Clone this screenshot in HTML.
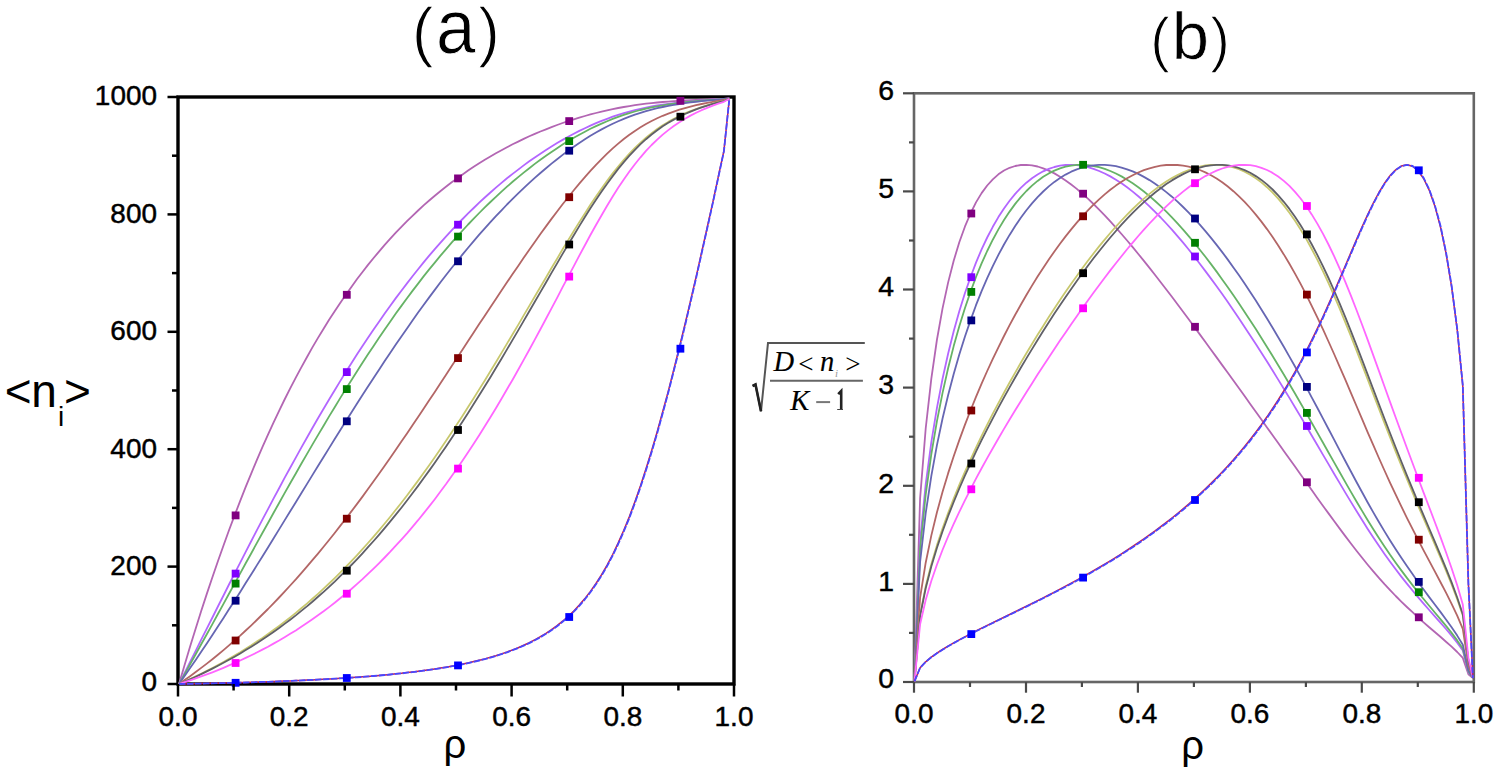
<!DOCTYPE html>
<html><head><meta charset="utf-8"><style>
html,body{margin:0;padding:0;background:#fff;}
body{width:1500px;height:775px;overflow:hidden;font-family:"Liberation Sans",sans-serif;}
svg{display:block;}
</style></head><body>
<svg width="1500" height="775" viewBox="0 0 1500 775">
<rect width="1500" height="775" fill="#fff"/>
<rect x="178.0" y="97.0" width="556.0" height="587.0" fill="none" stroke="#000" stroke-width="3.4"/>
<path d="M179.0 684.0 L184.6 665.0 L190.1 646.5 L195.7 628.5 L201.2 611.0 L206.8 593.9 L212.4 577.3 L217.9 561.2 L223.5 545.5 L229.0 530.2 L234.6 515.4 L240.2 500.9 L245.7 486.9 L251.3 473.3 L256.8 460.1 L262.4 447.2 L268.0 434.7 L273.5 422.6 L279.1 410.9 L284.6 399.5 L290.2 388.4 L295.8 377.7 L301.3 367.3 L306.9 357.2 L312.4 347.4 L318.0 337.9 L323.6 328.7 L329.1 319.8 L334.7 311.2 L340.2 302.9 L345.8 294.8 L351.4 286.9 L356.9 279.3 L362.5 272.0 L368.0 264.9 L373.6 258.0 L379.2 251.4 L384.7 244.9 L390.3 238.7 L395.8 232.7 L401.4 226.8 L407.0 221.2 L412.5 215.8 L418.1 210.5 L423.6 205.4 L429.2 200.5 L434.8 195.8 L440.3 191.2 L445.9 186.8 L451.4 182.5 L457.0 178.4 L462.6 174.4 L468.1 170.5 L473.7 166.8 L479.2 163.3 L484.8 159.8 L490.4 156.5 L495.9 153.3 L501.5 150.2 L507.0 147.2 L512.6 144.3 L518.2 141.6 L523.7 138.9 L529.3 136.3 L534.8 133.9 L540.4 131.5 L546.0 129.3 L551.5 127.1 L557.1 125.0 L562.6 123.0 L568.2 121.1 L573.8 119.3 L579.3 117.6 L584.9 116.0 L590.4 114.4 L596.0 113.0 L601.6 111.6 L607.1 110.3 L612.7 109.1 L618.2 108.0 L623.8 107.0 L629.4 106.1 L634.9 105.2 L640.5 104.4 L646.0 103.7 L651.6 103.1 L657.2 102.5 L662.7 102.0 L668.3 101.6 L673.8 101.1 L679.4 100.8 L685.0 100.4 L690.5 100.1 L696.1 99.8 L701.6 99.6 L707.2 99.4 L712.8 99.2 L718.3 99.0 L723.9 98.8 L729.4 98.5" fill="none" stroke="#B366B3" stroke-width="1.8" stroke-linejoin="round"/>
<path d="M179.0 684.0 L184.6 672.9 L190.1 661.9 L195.7 650.8 L201.2 639.7 L206.8 628.6 L212.4 617.5 L217.9 606.5 L223.5 595.5 L229.0 584.5 L234.6 573.6 L240.2 562.7 L245.7 551.8 L251.3 541.0 L256.8 530.3 L262.4 519.7 L268.0 509.1 L273.5 498.6 L279.1 488.2 L284.6 477.9 L290.2 467.7 L295.8 457.6 L301.3 447.6 L306.9 437.7 L312.4 428.0 L318.0 418.3 L323.6 408.8 L329.1 399.5 L334.7 390.2 L340.2 381.1 L345.8 372.1 L351.4 363.3 L356.9 354.6 L362.5 346.1 L368.0 337.7 L373.6 329.5 L379.2 321.4 L384.7 313.5 L390.3 305.7 L395.8 298.1 L401.4 290.7 L407.0 283.4 L412.5 276.2 L418.1 269.2 L423.6 262.4 L429.2 255.7 L434.8 249.2 L440.3 242.9 L445.9 236.7 L451.4 230.6 L457.0 224.7 L462.6 219.0 L468.1 213.4 L473.7 208.0 L479.2 202.7 L484.8 197.5 L490.4 192.5 L495.9 187.6 L501.5 182.9 L507.0 178.3 L512.6 173.9 L518.2 169.6 L523.7 165.4 L529.3 161.3 L534.8 157.4 L540.4 153.7 L546.0 150.0 L551.5 146.5 L557.1 143.1 L562.6 139.9 L568.2 136.8 L573.8 133.8 L579.3 130.9 L584.9 128.2 L590.4 125.6 L596.0 123.2 L601.6 120.9 L607.1 118.8 L612.7 116.7 L618.2 114.9 L623.8 113.1 L629.4 111.6 L634.9 110.1 L640.5 108.8 L646.0 107.6 L651.6 106.5 L657.2 105.5 L662.7 104.6 L668.3 103.8 L673.8 103.1 L679.4 102.4 L685.0 101.8 L690.5 101.3 L696.1 100.8 L701.6 100.4 L707.2 100.0 L712.8 99.6 L718.3 99.3 L723.9 99.0 L729.4 98.5" fill="none" stroke="#B366FF" stroke-width="1.8" stroke-linejoin="round"/>
<path d="M179.0 684.0 L184.6 674.1 L190.1 664.2 L195.7 654.2 L201.2 644.2 L206.8 634.2 L212.4 624.1 L217.9 614.0 L223.5 603.9 L229.0 593.7 L234.6 583.6 L240.2 573.4 L245.7 563.3 L251.3 553.2 L256.8 543.1 L262.4 533.0 L268.0 523.0 L273.5 513.0 L279.1 503.0 L284.6 493.1 L290.2 483.3 L295.8 473.5 L301.3 463.8 L306.9 454.1 L312.4 444.6 L318.0 435.1 L323.6 425.7 L329.1 416.4 L334.7 407.2 L340.2 398.1 L345.8 389.1 L351.4 380.2 L356.9 371.5 L362.5 362.8 L368.0 354.3 L373.6 345.9 L379.2 337.6 L384.7 329.5 L390.3 321.5 L395.8 313.6 L401.4 305.9 L407.0 298.3 L412.5 290.9 L418.1 283.6 L423.6 276.4 L429.2 269.4 L434.8 262.6 L440.3 255.9 L445.9 249.3 L451.4 242.9 L457.0 236.6 L462.6 230.5 L468.1 224.5 L473.7 218.7 L479.2 213.0 L484.8 207.4 L490.4 202.0 L495.9 196.8 L501.5 191.6 L507.0 186.7 L512.6 181.8 L518.2 177.1 L523.7 172.6 L529.3 168.2 L534.8 163.9 L540.4 159.7 L546.0 155.7 L551.5 151.9 L557.1 148.2 L562.6 144.6 L568.2 141.1 L573.8 137.8 L579.3 134.7 L584.9 131.7 L590.4 128.8 L596.0 126.1 L601.6 123.6 L607.1 121.2 L612.7 118.9 L618.2 116.8 L623.8 114.9 L629.4 113.1 L634.9 111.5 L640.5 110.0 L646.0 108.7 L651.6 107.4 L657.2 106.3 L662.7 105.3 L668.3 104.4 L673.8 103.6 L679.4 102.9 L685.0 102.2 L690.5 101.7 L696.1 101.1 L701.6 100.6 L707.2 100.2 L712.8 99.8 L718.3 99.4 L723.9 99.1 L729.4 98.6" fill="none" stroke="#66B366" stroke-width="1.8" stroke-linejoin="round"/>
<path d="M179.0 684.0 L184.6 676.1 L190.1 668.0 L195.7 659.9 L201.2 651.7 L206.8 643.4 L212.4 635.0 L217.9 626.5 L223.5 618.0 L229.0 609.3 L234.6 600.7 L240.2 591.9 L245.7 583.1 L251.3 574.3 L256.8 565.4 L262.4 556.4 L268.0 547.5 L273.5 538.5 L279.1 529.4 L284.6 520.4 L290.2 511.3 L295.8 502.3 L301.3 493.2 L306.9 484.1 L312.4 475.1 L318.0 466.1 L323.6 457.0 L329.1 448.1 L334.7 439.1 L340.2 430.2 L345.8 421.3 L351.4 412.5 L356.9 403.8 L362.5 395.1 L368.0 386.4 L373.6 377.9 L379.2 369.4 L384.7 361.0 L390.3 352.7 L395.8 344.5 L401.4 336.4 L407.0 328.4 L412.5 320.4 L418.1 312.6 L423.6 304.9 L429.2 297.4 L434.8 289.9 L440.3 282.5 L445.9 275.3 L451.4 268.2 L457.0 261.3 L462.6 254.4 L468.1 247.7 L473.7 241.1 L479.2 234.7 L484.8 228.4 L490.4 222.2 L495.9 216.2 L501.5 210.3 L507.0 204.5 L512.6 198.9 L518.2 193.4 L523.7 188.1 L529.3 182.9 L534.8 177.9 L540.4 173.0 L546.0 168.2 L551.5 163.6 L557.1 159.2 L562.6 154.9 L568.2 150.7 L573.8 146.8 L579.3 142.9 L584.9 139.3 L590.4 135.8 L596.0 132.5 L601.6 129.4 L607.1 126.5 L612.7 123.7 L618.2 121.2 L623.8 118.8 L629.4 116.6 L634.9 114.6 L640.5 112.8 L646.0 111.1 L651.6 109.6 L657.2 108.2 L662.7 107.0 L668.3 105.9 L673.8 104.9 L679.4 104.0 L685.0 103.2 L690.5 102.4 L696.1 101.8 L701.6 101.2 L707.2 100.6 L712.8 100.1 L718.3 99.7 L723.9 99.2 L729.4 98.6" fill="none" stroke="#6666B3" stroke-width="1.8" stroke-linejoin="round"/>
<path d="M179.0 684.0 L184.6 680.1 L190.1 676.2 L195.7 672.1 L201.2 667.9 L206.8 663.6 L212.4 659.2 L217.9 654.7 L223.5 650.1 L229.0 645.4 L234.6 640.5 L240.2 635.6 L245.7 630.5 L251.3 625.3 L256.8 620.0 L262.4 614.5 L268.0 609.0 L273.5 603.3 L279.1 597.5 L284.6 591.6 L290.2 585.5 L295.8 579.4 L301.3 573.1 L306.9 566.7 L312.4 560.2 L318.0 553.6 L323.6 546.8 L329.1 540.0 L334.7 533.0 L340.2 525.9 L345.8 518.7 L351.4 511.4 L356.9 504.1 L362.5 496.6 L368.0 489.0 L373.6 481.3 L379.2 473.5 L384.7 465.7 L390.3 457.7 L395.8 449.7 L401.4 441.6 L407.0 433.5 L412.5 425.3 L418.1 417.0 L423.6 408.7 L429.2 400.3 L434.8 391.9 L440.3 383.5 L445.9 375.1 L451.4 366.6 L457.0 358.1 L462.6 349.6 L468.1 341.1 L473.7 332.6 L479.2 324.1 L484.8 315.7 L490.4 307.3 L495.9 298.9 L501.5 290.6 L507.0 282.3 L512.6 274.0 L518.2 265.9 L523.7 257.8 L529.3 249.8 L534.8 241.9 L540.4 234.1 L546.0 226.4 L551.5 218.9 L557.1 211.5 L562.6 204.2 L568.2 197.2 L573.8 190.3 L579.3 183.6 L584.9 177.1 L590.4 170.8 L596.0 164.8 L601.6 159.1 L607.1 153.6 L612.7 148.4 L618.2 143.6 L623.8 139.0 L629.4 134.8 L634.9 130.9 L640.5 127.3 L646.0 124.0 L651.6 121.0 L657.2 118.3 L662.7 115.8 L668.3 113.6 L673.8 111.6 L679.4 109.7 L685.0 108.1 L690.5 106.6 L696.1 105.2 L701.6 104.0 L707.2 102.8 L712.8 101.8 L718.3 100.9 L723.9 100.0 L729.4 98.6" fill="none" stroke="#B36666" stroke-width="1.8" stroke-linejoin="round"/>
<path d="M179.0 684.0 L184.6 681.5 L190.1 679.0 L195.7 676.4 L201.2 673.7 L206.8 670.9 L212.4 668.0 L217.9 665.1 L223.5 662.0 L229.0 658.9 L234.6 655.6 L240.2 652.3 L245.7 648.8 L251.3 645.3 L256.8 641.6 L262.4 637.9 L268.0 634.0 L273.5 630.0 L279.1 625.9 L284.6 621.7 L290.2 617.4 L295.8 612.9 L301.3 608.3 L306.9 603.6 L312.4 598.8 L318.0 593.8 L323.6 588.7 L329.1 583.5 L334.7 578.1 L340.2 572.6 L345.8 567.0 L351.4 561.2 L356.9 555.3 L362.5 549.2 L368.0 543.0 L373.6 536.6 L379.2 530.1 L384.7 523.5 L390.3 516.7 L395.8 509.8 L401.4 502.7 L407.0 495.5 L412.5 488.1 L418.1 480.6 L423.6 472.9 L429.2 465.2 L434.8 457.2 L440.3 449.2 L445.9 441.0 L451.4 432.7 L457.0 424.3 L462.6 415.7 L468.1 407.0 L473.7 398.3 L479.2 389.4 L484.8 380.4 L490.4 371.3 L495.9 362.2 L501.5 352.9 L507.0 343.6 L512.6 334.3 L518.2 324.9 L523.7 315.4 L529.3 305.9 L534.8 296.5 L540.4 287.0 L546.0 277.5 L551.5 268.0 L557.1 258.7 L562.6 249.3 L568.2 240.1 L573.8 231.0 L579.3 222.1 L584.9 213.4 L590.4 204.8 L596.0 196.5 L601.6 188.5 L607.1 180.8 L612.7 173.4 L618.2 166.5 L623.8 159.9 L629.4 153.7 L634.9 147.9 L640.5 142.6 L646.0 137.7 L651.6 133.2 L657.2 129.1 L662.7 125.3 L668.3 121.9 L673.8 118.8 L679.4 116.0 L685.0 113.4 L690.5 111.1 L696.1 109.0 L701.6 107.1 L707.2 105.3 L712.8 103.7 L718.3 102.2 L723.9 100.9 L729.4 98.7" fill="none" stroke="#C8C86E" stroke-width="1.8" stroke-linejoin="round"/>
<path d="M179.0 684.0 L184.6 681.6 L190.1 679.2 L195.7 676.7 L201.2 674.1 L206.8 671.4 L212.4 668.6 L217.9 665.8 L223.5 662.8 L229.0 659.8 L234.6 656.7 L240.2 653.5 L245.7 650.1 L251.3 646.7 L256.8 643.2 L262.4 639.5 L268.0 635.8 L273.5 632.0 L279.1 628.0 L284.6 623.9 L290.2 619.7 L295.8 615.4 L301.3 610.9 L306.9 606.4 L312.4 601.7 L318.0 596.8 L323.6 591.9 L329.1 586.8 L334.7 581.6 L340.2 576.2 L345.8 570.7 L351.4 565.0 L356.9 559.3 L362.5 553.3 L368.0 547.2 L373.6 541.0 L379.2 534.6 L384.7 528.1 L390.3 521.4 L395.8 514.6 L401.4 507.7 L407.0 500.5 L412.5 493.3 L418.1 485.9 L423.6 478.3 L429.2 470.6 L434.8 462.8 L440.3 454.8 L445.9 446.7 L451.4 438.4 L457.0 430.0 L462.6 421.5 L468.1 412.9 L473.7 404.1 L479.2 395.2 L484.8 386.3 L490.4 377.2 L495.9 368.0 L501.5 358.7 L507.0 349.4 L512.6 339.9 L518.2 330.4 L523.7 320.9 L529.3 311.3 L534.8 301.7 L540.4 292.1 L546.0 282.5 L551.5 272.9 L557.1 263.4 L562.6 253.9 L568.2 244.5 L573.8 235.2 L579.3 226.1 L584.9 217.1 L590.4 208.3 L596.0 199.8 L601.6 191.6 L607.1 183.7 L612.7 176.1 L618.2 168.9 L623.8 162.1 L629.4 155.7 L634.9 149.8 L640.5 144.2 L646.0 139.2 L651.6 134.5 L657.2 130.2 L662.7 126.3 L668.3 122.8 L673.8 119.6 L679.4 116.7 L685.0 114.0 L690.5 111.6 L696.1 109.4 L701.6 107.4 L707.2 105.6 L712.8 103.9 L718.3 102.4 L723.9 101.0 L729.4 98.7" fill="none" stroke="#606068" stroke-width="1.8" stroke-linejoin="round"/>
<path d="M179.0 684.0 L184.6 682.2 L190.1 680.3 L195.7 678.4 L201.2 676.4 L206.8 674.4 L212.4 672.3 L217.9 670.1 L223.5 667.8 L229.0 665.4 L234.6 663.0 L240.2 660.5 L245.7 657.9 L251.3 655.2 L256.8 652.5 L262.4 649.6 L268.0 646.7 L273.5 643.6 L279.1 640.5 L284.6 637.2 L290.2 633.8 L295.8 630.4 L301.3 626.8 L306.9 623.1 L312.4 619.3 L318.0 615.3 L323.6 611.3 L329.1 607.1 L334.7 602.8 L340.2 598.3 L345.8 593.7 L351.4 589.0 L356.9 584.1 L362.5 579.1 L368.0 573.9 L373.6 568.6 L379.2 563.1 L384.7 557.5 L390.3 551.7 L395.8 545.7 L401.4 539.6 L407.0 533.3 L412.5 526.8 L418.1 520.2 L423.6 513.4 L429.2 506.4 L434.8 499.2 L440.3 491.8 L445.9 484.3 L451.4 476.5 L457.0 468.6 L462.6 460.5 L468.1 452.3 L473.7 443.8 L479.2 435.2 L484.8 426.3 L490.4 417.3 L495.9 408.2 L501.5 398.8 L507.0 389.3 L512.6 379.7 L518.2 369.8 L523.7 359.9 L529.3 349.8 L534.8 339.6 L540.4 329.2 L546.0 318.8 L551.5 308.3 L557.1 297.8 L562.6 287.2 L568.2 276.6 L573.8 266.1 L579.3 255.6 L584.9 245.2 L590.4 235.0 L596.0 225.0 L601.6 215.2 L607.1 205.7 L612.7 196.5 L618.2 187.8 L623.8 179.4 L629.4 171.6 L634.9 164.2 L640.5 157.3 L646.0 150.9 L651.6 145.0 L657.2 139.6 L662.7 134.6 L668.3 130.1 L673.8 126.0 L679.4 122.2 L685.0 118.8 L690.5 115.6 L696.1 112.8 L701.6 110.2 L707.2 107.8 L712.8 105.6 L718.3 103.6 L723.9 101.8 L729.4 98.8" fill="none" stroke="#FF66FF" stroke-width="1.8" stroke-linejoin="round"/>
<path d="M179.0 684.0 L184.6 683.9 L190.1 683.8 L195.7 683.7 L201.2 683.6 L206.8 683.4 L212.4 683.3 L217.9 683.2 L223.5 683.0 L229.0 682.9 L234.6 682.8 L240.2 682.6 L245.7 682.4 L251.3 682.3 L256.8 682.1 L262.4 681.9 L268.0 681.7 L273.5 681.5 L279.1 681.3 L284.6 681.1 L290.2 680.9 L295.8 680.6 L301.3 680.4 L306.9 680.1 L312.4 679.9 L318.0 679.6 L323.6 679.3 L329.1 679.0 L334.7 678.7 L340.2 678.3 L345.8 678.0 L351.4 677.6 L356.9 677.2 L362.5 676.8 L368.0 676.4 L373.6 675.9 L379.2 675.4 L384.7 674.9 L390.3 674.4 L395.8 673.8 L401.4 673.3 L407.0 672.6 L412.5 672.0 L418.1 671.3 L423.6 670.6 L429.2 669.8 L434.8 669.0 L440.3 668.1 L445.9 667.2 L451.4 666.2 L457.0 665.2 L462.6 664.1 L468.1 662.9 L473.7 661.6 L479.2 660.3 L484.8 658.9 L490.4 657.3 L495.9 655.7 L501.5 653.9 L507.0 652.0 L512.6 649.9 L518.2 647.7 L523.7 645.3 L529.3 642.7 L534.8 639.8 L540.4 636.7 L546.0 633.4 L551.5 629.7 L557.1 625.7 L562.6 621.2 L568.2 616.4 L573.8 611.0 L579.3 605.1 L584.9 598.6 L590.4 591.4 L596.0 583.5 L601.6 574.7 L607.1 565.1 L612.7 554.5 L618.2 542.9 L623.8 530.3 L629.4 516.6 L634.9 501.7 L640.5 485.8 L646.0 468.8 L651.6 450.8 L657.2 431.8 L662.7 411.8 L668.3 391.1 L673.8 369.5 L679.4 347.2 L685.0 324.3 L690.5 300.8 L696.1 276.8 L701.6 252.4 L707.2 227.5 L712.8 202.3 L718.3 176.7 L723.9 150.9 L729.2 100.3" fill="none" stroke="#C82050" stroke-width="1.5" stroke-linejoin="round"/>
<path d="M179.0 684.0 L184.6 683.9 L190.1 683.8 L195.7 683.7 L201.2 683.6 L206.8 683.4 L212.4 683.3 L217.9 683.2 L223.5 683.1 L229.0 682.9 L234.6 682.8 L240.2 682.6 L245.7 682.5 L251.3 682.3 L256.8 682.1 L262.4 681.9 L268.0 681.8 L273.5 681.6 L279.1 681.4 L284.6 681.1 L290.2 680.9 L295.8 680.7 L301.3 680.4 L306.9 680.2 L312.4 679.9 L318.0 679.6 L323.6 679.3 L329.1 679.0 L334.7 678.7 L340.2 678.4 L345.8 678.0 L351.4 677.7 L356.9 677.3 L362.5 676.9 L368.0 676.4 L373.6 676.0 L379.2 675.5 L384.7 675.0 L390.3 674.5 L395.8 673.9 L401.4 673.4 L407.0 672.7 L412.5 672.1 L418.1 671.4 L423.6 670.7 L429.2 669.9 L434.8 669.1 L440.3 668.3 L445.9 667.4 L451.4 666.4 L457.0 665.4 L462.6 664.3 L468.1 663.1 L473.7 661.8 L479.2 660.5 L484.8 659.1 L490.4 657.6 L495.9 655.9 L501.5 654.2 L507.0 652.3 L512.6 650.2 L518.2 648.0 L523.7 645.6 L529.3 643.1 L534.8 640.2 L540.4 637.2 L546.0 633.8 L551.5 630.2 L557.1 626.2 L562.6 621.8 L568.2 617.0 L573.8 611.7 L579.3 605.8 L584.9 599.3 L590.4 592.2 L596.0 584.3 L601.6 575.6 L607.1 566.1 L612.7 555.5 L618.2 544.0 L623.8 531.4 L629.4 517.8 L634.9 503.0 L640.5 487.1 L646.0 470.2 L651.6 452.2 L657.2 433.2 L662.7 413.3 L668.3 392.5 L673.8 370.9 L679.4 348.7 L685.0 325.7 L690.5 302.2 L696.1 278.1 L701.6 253.5 L707.2 228.5 L712.8 203.1 L718.3 177.4 L723.9 151.4 L729.2 100.3" fill="none" stroke="#4848FF" stroke-width="1.8" stroke-linejoin="round" stroke-dasharray="6.5 1.5"/>
<rect x="231.7" y="511.5" width="7.8" height="7.8" fill="#800080"/>
<rect x="231.7" y="569.7" width="7.8" height="7.8" fill="#8000FF"/>
<rect x="231.7" y="579.7" width="7.8" height="7.8" fill="#008000"/>
<rect x="231.7" y="596.8" width="7.8" height="7.8" fill="#000080"/>
<rect x="231.7" y="636.6" width="7.8" height="7.8" fill="#800000"/>
<rect x="231.7" y="659.1" width="7.8" height="7.8" fill="#FF00FF"/>
<rect x="231.7" y="678.9" width="7.8" height="7.8" fill="#0000FF"/>
<rect x="342.9" y="290.9" width="7.8" height="7.8" fill="#800080"/>
<rect x="342.9" y="368.2" width="7.8" height="7.8" fill="#8000FF"/>
<rect x="342.9" y="385.2" width="7.8" height="7.8" fill="#008000"/>
<rect x="342.9" y="417.4" width="7.8" height="7.8" fill="#000080"/>
<rect x="342.9" y="514.8" width="7.8" height="7.8" fill="#800000"/>
<rect x="342.9" y="566.8" width="7.8" height="7.8" fill="#000000"/>
<rect x="342.9" y="589.8" width="7.8" height="7.8" fill="#FF00FF"/>
<rect x="342.9" y="674.1" width="7.8" height="7.8" fill="#0000FF"/>
<rect x="454.1" y="174.5" width="7.8" height="7.8" fill="#800080"/>
<rect x="454.1" y="220.8" width="7.8" height="7.8" fill="#8000FF"/>
<rect x="454.1" y="232.7" width="7.8" height="7.8" fill="#008000"/>
<rect x="454.1" y="257.4" width="7.8" height="7.8" fill="#000080"/>
<rect x="454.1" y="354.2" width="7.8" height="7.8" fill="#800000"/>
<rect x="454.1" y="426.1" width="7.8" height="7.8" fill="#000000"/>
<rect x="454.1" y="464.7" width="7.8" height="7.8" fill="#FF00FF"/>
<rect x="454.1" y="661.5" width="7.8" height="7.8" fill="#0000FF"/>
<rect x="565.3" y="117.2" width="7.8" height="7.8" fill="#800080"/>
<rect x="565.3" y="137.2" width="7.8" height="7.8" fill="#008000"/>
<rect x="565.3" y="146.8" width="7.8" height="7.8" fill="#000080"/>
<rect x="565.3" y="193.3" width="7.8" height="7.8" fill="#800000"/>
<rect x="565.3" y="240.6" width="7.8" height="7.8" fill="#000000"/>
<rect x="565.3" y="272.7" width="7.8" height="7.8" fill="#FF00FF"/>
<rect x="565.3" y="613.1" width="7.8" height="7.8" fill="#0000FF"/>
<rect x="676.5" y="96.9" width="7.8" height="7.8" fill="#800080"/>
<rect x="676.5" y="112.8" width="7.8" height="7.8" fill="#000000"/>
<rect x="676.5" y="344.8" width="7.8" height="7.8" fill="#0000FF"/>
<line x1="178.0" y1="684.0" x2="178.0" y2="696.5" stroke="#000" stroke-width="2.5"/>
<line x1="167.5" y1="684.0" x2="178.0" y2="684.0" stroke="#000" stroke-width="2.5"/>
<line x1="233.6" y1="684.0" x2="233.6" y2="690.5" stroke="#000" stroke-width="2.5"/>
<line x1="172.0" y1="625.3" x2="178.0" y2="625.3" stroke="#000" stroke-width="2.5"/>
<line x1="289.2" y1="684.0" x2="289.2" y2="696.5" stroke="#000" stroke-width="2.5"/>
<line x1="167.5" y1="566.6" x2="178.0" y2="566.6" stroke="#000" stroke-width="2.5"/>
<line x1="344.8" y1="684.0" x2="344.8" y2="690.5" stroke="#000" stroke-width="2.5"/>
<line x1="172.0" y1="507.9" x2="178.0" y2="507.9" stroke="#000" stroke-width="2.5"/>
<line x1="400.4" y1="684.0" x2="400.4" y2="696.5" stroke="#000" stroke-width="2.5"/>
<line x1="167.5" y1="449.2" x2="178.0" y2="449.2" stroke="#000" stroke-width="2.5"/>
<line x1="456.0" y1="684.0" x2="456.0" y2="690.5" stroke="#000" stroke-width="2.5"/>
<line x1="172.0" y1="390.5" x2="178.0" y2="390.5" stroke="#000" stroke-width="2.5"/>
<line x1="511.6" y1="684.0" x2="511.6" y2="696.5" stroke="#000" stroke-width="2.5"/>
<line x1="167.5" y1="331.8" x2="178.0" y2="331.8" stroke="#000" stroke-width="2.5"/>
<line x1="567.2" y1="684.0" x2="567.2" y2="690.5" stroke="#000" stroke-width="2.5"/>
<line x1="172.0" y1="273.1" x2="178.0" y2="273.1" stroke="#000" stroke-width="2.5"/>
<line x1="622.8" y1="684.0" x2="622.8" y2="696.5" stroke="#000" stroke-width="2.5"/>
<line x1="167.5" y1="214.4" x2="178.0" y2="214.4" stroke="#000" stroke-width="2.5"/>
<line x1="678.4" y1="684.0" x2="678.4" y2="690.5" stroke="#000" stroke-width="2.5"/>
<line x1="172.0" y1="155.7" x2="178.0" y2="155.7" stroke="#000" stroke-width="2.5"/>
<line x1="734.0" y1="684.0" x2="734.0" y2="696.5" stroke="#000" stroke-width="2.5"/>
<line x1="167.5" y1="97.0" x2="178.0" y2="97.0" stroke="#000" stroke-width="2.5"/>
<text transform="translate(178.0 725.8) scale(1.035 1)" font-size="27.0" text-anchor="middle" font-family="Liberation Sans" stroke="#000" stroke-width="0.45">0.0</text>
<text transform="translate(157.0 691.3) scale(1.035 1)" font-size="27.0" text-anchor="end" font-family="Liberation Sans" stroke="#000" stroke-width="0.45">0</text>
<text transform="translate(289.2 725.8) scale(1.035 1)" font-size="27.0" text-anchor="middle" font-family="Liberation Sans" stroke="#000" stroke-width="0.45">0.2</text>
<text transform="translate(157.0 574.9) scale(1.035 1)" font-size="27.0" text-anchor="end" font-family="Liberation Sans" stroke="#000" stroke-width="0.45">200</text>
<text transform="translate(400.4 725.8) scale(1.035 1)" font-size="27.0" text-anchor="middle" font-family="Liberation Sans" stroke="#000" stroke-width="0.45">0.4</text>
<text transform="translate(157.0 457.5) scale(1.035 1)" font-size="27.0" text-anchor="end" font-family="Liberation Sans" stroke="#000" stroke-width="0.45">400</text>
<text transform="translate(511.6 725.8) scale(1.035 1)" font-size="27.0" text-anchor="middle" font-family="Liberation Sans" stroke="#000" stroke-width="0.45">0.6</text>
<text transform="translate(157.0 340.1) scale(1.035 1)" font-size="27.0" text-anchor="end" font-family="Liberation Sans" stroke="#000" stroke-width="0.45">600</text>
<text transform="translate(622.8 725.8) scale(1.035 1)" font-size="27.0" text-anchor="middle" font-family="Liberation Sans" stroke="#000" stroke-width="0.45">0.8</text>
<text transform="translate(157.0 222.7) scale(1.035 1)" font-size="27.0" text-anchor="end" font-family="Liberation Sans" stroke="#000" stroke-width="0.45">800</text>
<text transform="translate(734.0 725.8) scale(1.035 1)" font-size="27.0" text-anchor="middle" font-family="Liberation Sans" stroke="#000" stroke-width="0.45">1.0</text>
<text transform="translate(157.0 105.3) scale(1.035 1)" font-size="27.0" text-anchor="end" font-family="Liberation Sans" stroke="#000" stroke-width="0.45">1000</text>
<rect x="914.0" y="93.3" width="559.8" height="588.7" fill="none" stroke="#666" stroke-width="2.6"/>
<path d="M914.5 681.4 L920.1 498.4 L925.7 428.5 L931.3 378.8 L936.9 340.0 L942.5 308.6 L948.1 282.6 L953.7 260.7 L959.3 242.3 L964.9 226.7 L970.5 213.5 L976.0 202.4 L981.6 193.1 L987.2 185.5 L992.8 179.3 L998.4 174.3 L1004.0 170.5 L1009.6 167.8 L1015.2 166.0 L1020.8 165.0 L1026.4 164.8 L1032.0 165.3 L1037.6 166.5 L1043.2 168.3 L1048.8 170.6 L1054.4 173.4 L1060.0 176.7 L1065.6 180.4 L1071.2 184.5 L1076.8 188.9 L1082.3 193.7 L1087.9 198.7 L1093.5 204.0 L1099.1 209.6 L1104.7 215.4 L1110.3 221.4 L1115.9 227.6 L1121.5 234.0 L1127.1 240.5 L1132.7 247.2 L1138.3 254.0 L1143.9 260.9 L1149.5 267.9 L1155.1 275.0 L1160.7 282.2 L1166.3 289.5 L1171.9 296.8 L1177.5 304.2 L1183.1 311.7 L1188.7 319.2 L1194.2 326.8 L1199.8 334.4 L1205.4 342.0 L1211.0 349.7 L1216.6 357.4 L1222.2 365.1 L1227.8 372.8 L1233.4 380.5 L1239.0 388.3 L1244.6 396.1 L1250.2 403.9 L1255.8 411.7 L1261.4 419.5 L1267.0 427.4 L1272.6 435.2 L1278.2 443.0 L1283.8 450.9 L1289.4 458.7 L1295.0 466.6 L1300.6 474.4 L1306.2 482.3 L1311.7 490.1 L1317.3 497.9 L1322.9 505.7 L1328.5 513.4 L1334.1 521.0 L1339.7 528.6 L1345.3 536.1 L1350.9 543.5 L1356.5 550.7 L1362.1 557.8 L1367.7 564.7 L1373.3 571.3 L1378.9 577.8 L1384.5 584.1 L1390.1 590.1 L1395.7 596.0 L1401.3 601.6 L1406.9 607.0 L1412.5 612.2 L1418.0 617.3 L1423.6 622.3 L1429.2 627.2 L1434.8 632.0 L1440.4 636.8 L1446.0 641.7 L1451.6 646.7 L1457.2 652.0 L1462.8 657.9 L1468.4 674.3 L1472.9 678.0" fill="none" stroke="#B366B3" stroke-width="1.8" stroke-linejoin="round"/>
<path d="M914.5 681.4 L920.1 540.7 L925.7 484.3 L931.3 442.4 L936.9 408.1 L942.5 379.0 L948.1 353.7 L953.7 331.3 L959.3 311.3 L964.9 293.3 L970.5 277.2 L976.0 262.6 L981.6 249.4 L987.2 237.5 L992.8 226.8 L998.4 217.1 L1004.0 208.5 L1009.6 200.8 L1015.2 193.9 L1020.8 187.9 L1026.4 182.7 L1032.0 178.2 L1037.6 174.5 L1043.2 171.3 L1048.8 168.9 L1054.4 167.0 L1060.0 165.7 L1065.6 165.0 L1071.2 164.8 L1076.8 165.1 L1082.3 165.9 L1087.9 167.1 L1093.5 168.8 L1099.1 171.0 L1104.7 173.5 L1110.3 176.4 L1115.9 179.7 L1121.5 183.3 L1127.1 187.3 L1132.7 191.6 L1138.3 196.2 L1143.9 201.1 L1149.5 206.3 L1155.1 211.8 L1160.7 217.5 L1166.3 223.5 L1171.9 229.6 L1177.5 236.1 L1183.1 242.7 L1188.7 249.5 L1194.2 256.5 L1199.8 263.7 L1205.4 271.1 L1211.0 278.6 L1216.6 286.3 L1222.2 294.1 L1227.8 302.1 L1233.4 310.2 L1239.0 318.5 L1244.6 326.9 L1250.2 335.4 L1255.8 344.0 L1261.4 352.7 L1267.0 361.6 L1272.6 370.5 L1278.2 379.6 L1283.8 388.7 L1289.4 397.9 L1295.0 407.2 L1300.6 416.6 L1306.2 426.0 L1311.7 435.5 L1317.3 445.0 L1322.9 454.6 L1328.5 464.1 L1334.1 473.7 L1339.7 483.1 L1345.3 492.6 L1350.9 501.9 L1356.5 511.0 L1362.1 520.0 L1367.7 528.9 L1373.3 537.4 L1378.9 545.8 L1384.5 553.9 L1390.1 561.7 L1395.7 569.3 L1401.3 576.6 L1406.9 583.6 L1412.5 590.5 L1418.0 597.1 L1423.6 603.6 L1429.2 610.0 L1434.8 616.3 L1440.4 622.6 L1446.0 629.0 L1451.6 635.7 L1457.2 642.7 L1462.8 650.5 L1468.4 672.0 L1472.9 678.0" fill="none" stroke="#B366FF" stroke-width="1.8" stroke-linejoin="round"/>
<path d="M914.5 681.4 L920.1 548.4 L925.7 494.7 L931.3 454.4 L936.9 421.4 L942.5 393.1 L948.1 368.2 L953.7 346.1 L959.3 326.3 L964.9 308.3 L970.5 291.9 L976.0 277.0 L981.6 263.4 L987.2 251.0 L992.8 239.7 L998.4 229.4 L1004.0 220.0 L1009.6 211.6 L1015.2 203.9 L1020.8 197.1 L1026.4 191.0 L1032.0 185.6 L1037.6 180.9 L1043.2 176.8 L1048.8 173.4 L1054.4 170.6 L1060.0 168.4 L1065.6 166.7 L1071.2 165.6 L1076.8 164.9 L1082.3 164.8 L1087.9 165.2 L1093.5 166.0 L1099.1 167.2 L1104.7 168.9 L1110.3 171.0 L1115.9 173.5 L1121.5 176.4 L1127.1 179.7 L1132.7 183.3 L1138.3 187.2 L1143.9 191.5 L1149.5 196.1 L1155.1 201.0 L1160.7 206.2 L1166.3 211.6 L1171.9 217.4 L1177.5 223.4 L1183.1 229.6 L1188.7 236.1 L1194.2 242.8 L1199.8 249.7 L1205.4 256.8 L1211.0 264.1 L1216.6 271.6 L1222.2 279.4 L1227.8 287.2 L1233.4 295.3 L1239.0 303.5 L1244.6 311.9 L1250.2 320.4 L1255.8 329.1 L1261.4 337.9 L1267.0 346.9 L1272.6 356.0 L1278.2 365.2 L1283.8 374.5 L1289.4 384.0 L1295.0 393.5 L1300.6 403.2 L1306.2 412.9 L1311.7 422.7 L1317.3 432.6 L1322.9 442.5 L1328.5 452.5 L1334.1 462.4 L1339.7 472.3 L1345.3 482.1 L1350.9 491.9 L1356.5 501.5 L1362.1 510.9 L1367.7 520.2 L1373.3 529.2 L1378.9 538.0 L1384.5 546.5 L1390.1 554.8 L1395.7 562.7 L1401.3 570.4 L1406.9 577.9 L1412.5 585.1 L1418.0 592.2 L1423.6 599.0 L1429.2 605.8 L1434.8 612.5 L1440.4 619.2 L1446.0 625.9 L1451.6 632.9 L1457.2 640.4 L1462.8 648.6 L1468.4 671.4 L1472.9 678.0" fill="none" stroke="#66B366" stroke-width="1.8" stroke-linejoin="round"/>
<path d="M914.5 681.4 L920.1 561.9 L925.7 513.1 L931.3 476.1 L936.9 445.4 L942.5 418.8 L948.1 395.2 L953.7 373.9 L959.3 354.5 L964.9 336.8 L970.5 320.4 L976.0 305.2 L981.6 291.2 L987.2 278.2 L992.8 266.1 L998.4 254.9 L1004.0 244.5 L1009.6 234.9 L1015.2 226.0 L1020.8 217.8 L1026.4 210.3 L1032.0 203.4 L1037.6 197.1 L1043.2 191.5 L1048.8 186.4 L1054.4 181.9 L1060.0 178.0 L1065.6 174.6 L1071.2 171.7 L1076.8 169.4 L1082.3 167.5 L1087.9 166.2 L1093.5 165.3 L1099.1 164.8 L1104.7 164.9 L1110.3 165.3 L1115.9 166.2 L1121.5 167.6 L1127.1 169.3 L1132.7 171.4 L1138.3 173.9 L1143.9 176.9 L1149.5 180.1 L1155.1 183.8 L1160.7 187.8 L1166.3 192.1 L1171.9 196.7 L1177.5 201.7 L1183.1 207.0 L1188.7 212.6 L1194.2 218.5 L1199.8 224.7 L1205.4 231.2 L1211.0 237.9 L1216.6 244.9 L1222.2 252.1 L1227.8 259.6 L1233.4 267.4 L1239.0 275.3 L1244.6 283.5 L1250.2 292.0 L1255.8 300.6 L1261.4 309.4 L1267.0 318.5 L1272.6 327.7 L1278.2 337.2 L1283.8 346.8 L1289.4 356.6 L1295.0 366.5 L1300.6 376.6 L1306.2 386.9 L1311.7 397.3 L1317.3 407.7 L1322.9 418.3 L1328.5 429.0 L1334.1 439.6 L1339.7 450.3 L1345.3 461.0 L1350.9 471.5 L1356.5 482.0 L1362.1 492.3 L1367.7 502.5 L1373.3 512.4 L1378.9 522.0 L1384.5 531.4 L1390.1 540.5 L1395.7 549.3 L1401.3 557.8 L1406.9 566.1 L1412.5 574.1 L1418.0 581.9 L1423.6 589.5 L1429.2 597.1 L1434.8 604.5 L1440.4 611.9 L1446.0 619.5 L1451.6 627.3 L1457.2 635.6 L1462.8 644.8 L1468.4 670.3 L1472.9 678.0" fill="none" stroke="#6666B3" stroke-width="1.8" stroke-linejoin="round"/>
<path d="M914.5 681.4 L920.1 597.7 L925.7 562.7 L931.3 535.6 L936.9 512.5 L942.5 492.0 L948.1 473.4 L953.7 456.2 L959.3 440.1 L964.9 424.9 L970.5 410.5 L976.0 396.8 L981.6 383.6 L987.2 371.0 L992.8 358.9 L998.4 347.3 L1004.0 336.0 L1009.6 325.2 L1015.2 314.8 L1020.8 304.7 L1026.4 295.0 L1032.0 285.6 L1037.6 276.6 L1043.2 267.9 L1048.8 259.5 L1054.4 251.5 L1060.0 243.8 L1065.6 236.4 L1071.2 229.4 L1076.8 222.7 L1082.3 216.3 L1087.9 210.3 L1093.5 204.7 L1099.1 199.4 L1104.7 194.4 L1110.3 189.8 L1115.9 185.6 L1121.5 181.8 L1127.1 178.3 L1132.7 175.2 L1138.3 172.5 L1143.9 170.2 L1149.5 168.3 L1155.1 166.8 L1160.7 165.7 L1166.3 165.0 L1171.9 164.8 L1177.5 165.0 L1183.1 165.6 L1188.7 166.6 L1194.2 168.1 L1199.8 170.0 L1205.4 172.4 L1211.0 175.3 L1216.6 178.5 L1222.2 182.3 L1227.8 186.5 L1233.4 191.2 L1239.0 196.3 L1244.6 201.9 L1250.2 208.0 L1255.8 214.6 L1261.4 221.6 L1267.0 229.1 L1272.6 237.1 L1278.2 245.5 L1283.8 254.4 L1289.4 263.8 L1295.0 273.6 L1300.6 283.9 L1306.2 294.6 L1311.7 305.8 L1317.3 317.3 L1322.9 329.2 L1328.5 341.5 L1334.1 354.0 L1339.7 366.8 L1345.3 379.7 L1350.9 392.8 L1356.5 406.0 L1362.1 419.2 L1367.7 432.3 L1373.3 445.2 L1378.9 458.0 L1384.5 470.5 L1390.1 482.8 L1395.7 494.7 L1401.3 506.4 L1406.9 517.8 L1412.5 528.9 L1418.0 539.7 L1423.6 550.4 L1429.2 560.9 L1434.8 571.4 L1440.4 582.0 L1446.0 592.7 L1451.6 603.8 L1457.2 615.7 L1462.8 628.8 L1468.4 665.4 L1472.9 678.0" fill="none" stroke="#B36666" stroke-width="1.8" stroke-linejoin="round"/>
<path d="M914.5 681.4 L920.1 614.6 L925.7 586.3 L931.3 564.3 L936.9 545.4 L942.5 528.6 L948.1 513.1 L953.7 498.6 L959.3 484.9 L964.9 471.9 L970.5 459.5 L976.0 447.5 L981.6 435.9 L987.2 424.7 L992.8 413.7 L998.4 403.1 L1004.0 392.7 L1009.6 382.5 L1015.2 372.6 L1020.8 362.8 L1026.4 353.3 L1032.0 344.0 L1037.6 334.8 L1043.2 325.9 L1048.8 317.1 L1054.4 308.5 L1060.0 300.1 L1065.6 291.8 L1071.2 283.8 L1076.8 275.9 L1082.3 268.2 L1087.9 260.8 L1093.5 253.5 L1099.1 246.4 L1104.7 239.6 L1110.3 233.0 L1115.9 226.6 L1121.5 220.5 L1127.1 214.6 L1132.7 209.0 L1138.3 203.7 L1143.9 198.6 L1149.5 193.9 L1155.1 189.4 L1160.7 185.3 L1166.3 181.5 L1171.9 178.1 L1177.5 175.0 L1183.1 172.3 L1188.7 170.0 L1194.2 168.1 L1199.8 166.6 L1205.4 165.5 L1211.0 164.9 L1216.6 164.8 L1222.2 165.1 L1227.8 166.0 L1233.4 167.3 L1239.0 169.2 L1244.6 171.7 L1250.2 174.7 L1255.8 178.2 L1261.4 182.4 L1267.0 187.2 L1272.6 192.6 L1278.2 198.7 L1283.8 205.4 L1289.4 212.8 L1295.0 220.8 L1300.6 229.5 L1306.2 238.9 L1311.7 249.0 L1317.3 259.7 L1322.9 271.1 L1328.5 283.1 L1334.1 295.7 L1339.7 308.7 L1345.3 322.3 L1350.9 336.2 L1356.5 350.5 L1362.1 364.9 L1367.7 379.5 L1373.3 394.2 L1378.9 408.8 L1384.5 423.2 L1390.1 437.5 L1395.7 451.6 L1401.3 465.5 L1406.9 479.0 L1412.5 492.4 L1418.0 505.6 L1423.6 518.5 L1429.2 531.4 L1434.8 544.3 L1440.4 557.3 L1446.0 570.6 L1451.6 584.4 L1457.2 599.1 L1462.8 615.5 L1468.4 661.3 L1472.9 678.0" fill="none" stroke="#C8C86E" stroke-width="1.8" stroke-linejoin="round"/>
<path d="M914.5 681.4 L920.1 615.9 L925.7 588.2 L931.3 566.6 L936.9 548.0 L942.5 531.5 L948.1 516.2 L953.7 502.0 L959.3 488.5 L964.9 475.7 L970.5 463.5 L976.0 451.6 L981.6 440.2 L987.2 429.1 L992.8 418.3 L998.4 407.7 L1004.0 397.4 L1009.6 387.4 L1015.2 377.5 L1020.8 367.8 L1026.4 358.4 L1032.0 349.1 L1037.6 340.0 L1043.2 331.0 L1048.8 322.2 L1054.4 313.6 L1060.0 305.2 L1065.6 296.9 L1071.2 288.9 L1076.8 280.9 L1082.3 273.2 L1087.9 265.7 L1093.5 258.3 L1099.1 251.2 L1104.7 244.2 L1110.3 237.5 L1115.9 231.0 L1121.5 224.7 L1127.1 218.7 L1132.7 212.9 L1138.3 207.4 L1143.9 202.1 L1149.5 197.2 L1155.1 192.5 L1160.7 188.2 L1166.3 184.1 L1171.9 180.4 L1177.5 177.1 L1183.1 174.1 L1188.7 171.5 L1194.2 169.3 L1199.8 167.6 L1205.4 166.2 L1211.0 165.3 L1216.6 164.8 L1222.2 164.9 L1227.8 165.4 L1233.4 166.4 L1239.0 168.0 L1244.6 170.1 L1250.2 172.8 L1255.8 176.1 L1261.4 179.9 L1267.0 184.4 L1272.6 189.5 L1278.2 195.3 L1283.8 201.8 L1289.4 208.9 L1295.0 216.7 L1300.6 225.2 L1306.2 234.4 L1311.7 244.3 L1317.3 254.9 L1322.9 266.1 L1328.5 278.0 L1334.1 290.5 L1339.7 303.6 L1345.3 317.1 L1350.9 331.1 L1356.5 345.4 L1362.1 359.9 L1367.7 374.6 L1373.3 389.4 L1378.9 404.1 L1384.5 418.7 L1390.1 433.2 L1395.7 447.5 L1401.3 461.5 L1406.9 475.3 L1412.5 488.9 L1418.0 502.2 L1423.6 515.4 L1429.2 528.5 L1434.8 541.7 L1440.4 554.9 L1446.0 568.4 L1451.6 582.4 L1457.2 597.5 L1462.8 614.2 L1468.4 660.9 L1472.9 678.0" fill="none" stroke="#606068" stroke-width="1.8" stroke-linejoin="round"/>
<path d="M914.5 681.4 L920.1 624.2 L925.7 600.0 L931.3 581.0 L936.9 564.7 L942.5 550.0 L948.1 536.5 L953.7 523.9 L959.3 511.9 L964.9 500.4 L970.5 489.3 L976.0 478.6 L981.6 468.2 L987.2 458.1 L992.8 448.2 L998.4 438.5 L1004.0 428.9 L1009.6 419.5 L1015.2 410.3 L1020.8 401.2 L1026.4 392.2 L1032.0 383.4 L1037.6 374.6 L1043.2 366.0 L1048.8 357.4 L1054.4 349.0 L1060.0 340.6 L1065.6 332.4 L1071.2 324.3 L1076.8 316.2 L1082.3 308.3 L1087.9 300.5 L1093.5 292.8 L1099.1 285.2 L1104.7 277.7 L1110.3 270.4 L1115.9 263.2 L1121.5 256.2 L1127.1 249.3 L1132.7 242.6 L1138.3 236.0 L1143.9 229.7 L1149.5 223.5 L1155.1 217.6 L1160.7 211.9 L1166.3 206.4 L1171.9 201.2 L1177.5 196.2 L1183.1 191.6 L1188.7 187.2 L1194.2 183.2 L1199.8 179.5 L1205.4 176.1 L1211.0 173.2 L1216.6 170.6 L1222.2 168.5 L1227.8 166.8 L1233.4 165.7 L1239.0 165.0 L1244.6 164.8 L1250.2 165.2 L1255.8 166.2 L1261.4 167.8 L1267.0 170.0 L1272.6 172.9 L1278.2 176.5 L1283.8 180.9 L1289.4 185.9 L1295.0 191.8 L1300.6 198.5 L1306.2 206.0 L1311.7 214.4 L1317.3 223.6 L1322.9 233.6 L1328.5 244.5 L1334.1 256.2 L1339.7 268.7 L1345.3 281.8 L1350.9 295.6 L1356.5 310.0 L1362.1 324.8 L1367.7 339.9 L1373.3 355.4 L1378.9 370.9 L1384.5 386.5 L1390.1 402.1 L1395.7 417.5 L1401.3 432.8 L1406.9 448.0 L1412.5 463.0 L1418.0 477.8 L1423.6 492.6 L1429.2 507.2 L1434.8 522.0 L1440.4 536.9 L1446.0 552.2 L1451.6 568.2 L1457.2 585.3 L1462.8 604.4 L1468.4 657.9 L1472.9 678.0" fill="none" stroke="#FF66FF" stroke-width="1.8" stroke-linejoin="round"/>
<path d="M914.5 681.4 L920.1 667.7 L925.7 661.8 L931.3 657.2 L936.9 653.2 L942.5 649.5 L948.1 646.1 L953.7 642.9 L959.3 639.8 L964.9 636.8 L970.5 633.9 L976.0 631.0 L981.6 628.2 L987.2 625.4 L992.8 622.7 L998.4 619.9 L1004.0 617.2 L1009.6 614.5 L1015.2 611.7 L1020.8 609.0 L1026.4 606.2 L1032.0 603.5 L1037.6 600.7 L1043.2 597.8 L1048.8 595.0 L1054.4 592.1 L1060.0 589.2 L1065.6 586.2 L1071.2 583.2 L1076.8 580.2 L1082.3 577.1 L1087.9 573.9 L1093.5 570.7 L1099.1 567.5 L1104.7 564.2 L1110.3 560.8 L1115.9 557.3 L1121.5 553.8 L1127.1 550.2 L1132.7 546.5 L1138.3 542.7 L1143.9 538.9 L1149.5 534.9 L1155.1 530.9 L1160.7 526.7 L1166.3 522.4 L1171.9 518.0 L1177.5 513.5 L1183.1 508.9 L1188.7 504.1 L1194.2 499.1 L1199.8 494.0 L1205.4 488.8 L1211.0 483.4 L1216.6 477.7 L1222.2 471.9 L1227.8 465.9 L1233.4 459.7 L1239.0 453.2 L1244.6 446.5 L1250.2 439.5 L1255.8 432.2 L1261.4 424.7 L1267.0 416.8 L1272.6 408.5 L1278.2 400.0 L1283.8 391.0 L1289.4 381.7 L1295.0 371.9 L1300.6 361.8 L1306.2 351.2 L1311.7 340.1 L1317.3 328.6 L1322.9 316.7 L1328.5 304.4 L1334.1 291.8 L1339.7 278.9 L1345.3 265.8 L1350.9 252.6 L1356.5 239.6 L1362.1 226.8 L1367.7 214.5 L1373.3 203.0 L1378.9 192.5 L1384.5 183.3 L1390.1 175.6 L1395.7 169.8 L1401.3 166.1 L1406.9 164.8 L1412.5 166.2 L1418.0 170.7 L1423.6 178.5 L1429.2 190.1 L1434.8 205.9 L1440.4 226.6 L1446.0 253.2 L1451.6 286.8 L1457.2 329.8 L1462.8 386.4 L1468.4 583.7 L1472.9 678.0" fill="none" stroke="#C82050" stroke-width="1.5" stroke-linejoin="round"/>
<path d="M914.5 681.4 L920.1 667.8 L925.7 661.9 L931.3 657.3 L936.9 653.3 L942.5 649.7 L948.1 646.3 L953.7 643.1 L959.3 640.0 L964.9 637.0 L970.5 634.1 L976.0 631.3 L981.6 628.5 L987.2 625.7 L992.8 623.0 L998.4 620.2 L1004.0 617.5 L1009.6 614.8 L1015.2 612.1 L1020.8 609.3 L1026.4 606.6 L1032.0 603.8 L1037.6 601.1 L1043.2 598.2 L1048.8 595.4 L1054.4 592.5 L1060.0 589.6 L1065.6 586.7 L1071.2 583.7 L1076.8 580.7 L1082.3 577.6 L1087.9 574.5 L1093.5 571.3 L1099.1 568.0 L1104.7 564.7 L1110.3 561.4 L1115.9 557.9 L1121.5 554.4 L1127.1 550.8 L1132.7 547.2 L1138.3 543.4 L1143.9 539.6 L1149.5 535.6 L1155.1 531.6 L1160.7 527.4 L1166.3 523.2 L1171.9 518.8 L1177.5 514.3 L1183.1 509.7 L1188.7 504.9 L1194.2 500.0 L1199.8 494.9 L1205.4 489.7 L1211.0 484.3 L1216.6 478.7 L1222.2 472.9 L1227.8 466.9 L1233.4 460.7 L1239.0 454.2 L1244.6 447.5 L1250.2 440.6 L1255.8 433.3 L1261.4 425.8 L1267.0 417.9 L1272.6 409.7 L1278.2 401.2 L1283.8 392.2 L1289.4 382.9 L1295.0 373.2 L1300.6 363.0 L1306.2 352.4 L1311.7 341.4 L1317.3 329.9 L1322.9 318.0 L1328.5 305.7 L1334.1 293.1 L1339.7 280.1 L1345.3 267.0 L1350.9 253.8 L1356.5 240.7 L1362.1 227.9 L1367.7 215.5 L1373.3 203.9 L1378.9 193.3 L1384.5 183.9 L1390.1 176.1 L1395.7 170.1 L1401.3 166.3 L1406.9 164.8 L1412.5 166.0 L1418.0 170.3 L1423.6 177.9 L1429.2 189.3 L1434.8 205.0 L1440.4 225.5 L1446.0 252.0 L1451.6 285.6 L1457.2 328.6 L1462.8 385.2 L1468.4 583.2 L1472.9 678.0" fill="none" stroke="#4848FF" stroke-width="1.8" stroke-linejoin="round" stroke-dasharray="6.5 1.5"/>
<rect x="967.4" y="209.6" width="7.8" height="7.8" fill="#800080"/>
<rect x="967.4" y="273.3" width="7.8" height="7.8" fill="#8000FF"/>
<rect x="967.4" y="288.0" width="7.8" height="7.8" fill="#008000"/>
<rect x="967.4" y="316.5" width="7.8" height="7.8" fill="#000080"/>
<rect x="967.4" y="406.6" width="7.8" height="7.8" fill="#800000"/>
<rect x="967.4" y="459.6" width="7.8" height="7.8" fill="#000000"/>
<rect x="967.4" y="485.4" width="7.8" height="7.8" fill="#FF00FF"/>
<rect x="967.4" y="630.2" width="7.8" height="7.8" fill="#0000FF"/>
<rect x="1079.2" y="160.9" width="7.8" height="7.8" fill="#008000"/>
<rect x="1079.2" y="189.8" width="7.8" height="7.8" fill="#800080"/>
<rect x="1079.2" y="212.4" width="7.8" height="7.8" fill="#800000"/>
<rect x="1079.2" y="269.3" width="7.8" height="7.8" fill="#000000"/>
<rect x="1079.2" y="304.4" width="7.8" height="7.8" fill="#FF00FF"/>
<rect x="1079.2" y="573.7" width="7.8" height="7.8" fill="#0000FF"/>
<rect x="1191.1" y="165.4" width="7.8" height="7.8" fill="#000000"/>
<rect x="1191.1" y="179.3" width="7.8" height="7.8" fill="#FF00FF"/>
<rect x="1191.1" y="214.6" width="7.8" height="7.8" fill="#000080"/>
<rect x="1191.1" y="238.9" width="7.8" height="7.8" fill="#008000"/>
<rect x="1191.1" y="252.6" width="7.8" height="7.8" fill="#8000FF"/>
<rect x="1191.1" y="322.9" width="7.8" height="7.8" fill="#800080"/>
<rect x="1191.1" y="496.1" width="7.8" height="7.8" fill="#0000FF"/>
<rect x="1303.0" y="202.1" width="7.8" height="7.8" fill="#FF00FF"/>
<rect x="1303.0" y="230.5" width="7.8" height="7.8" fill="#000000"/>
<rect x="1303.0" y="290.7" width="7.8" height="7.8" fill="#800000"/>
<rect x="1303.0" y="348.5" width="7.8" height="7.8" fill="#0000FF"/>
<rect x="1303.0" y="383.0" width="7.8" height="7.8" fill="#000080"/>
<rect x="1303.0" y="409.0" width="7.8" height="7.8" fill="#008000"/>
<rect x="1303.0" y="422.1" width="7.8" height="7.8" fill="#8000FF"/>
<rect x="1303.0" y="478.4" width="7.8" height="7.8" fill="#800080"/>
<rect x="1414.9" y="473.9" width="7.8" height="7.8" fill="#FF00FF"/>
<rect x="1414.9" y="498.3" width="7.8" height="7.8" fill="#000000"/>
<rect x="1414.9" y="535.8" width="7.8" height="7.8" fill="#800000"/>
<rect x="1414.9" y="578.0" width="7.8" height="7.8" fill="#000080"/>
<rect x="1414.9" y="588.3" width="7.8" height="7.8" fill="#008000"/>
<rect x="1414.9" y="613.4" width="7.8" height="7.8" fill="#800080"/>
<rect x="1414.9" y="166.4" width="7.8" height="7.8" fill="#0000FF"/>
<line x1="914.0" y1="682.0" x2="914.0" y2="692.7" stroke="#4a4a4a" stroke-width="2.2"/>
<line x1="970.0" y1="682.0" x2="970.0" y2="687.0" stroke="#4a4a4a" stroke-width="2.2"/>
<line x1="1026.0" y1="682.0" x2="1026.0" y2="692.7" stroke="#4a4a4a" stroke-width="2.2"/>
<line x1="1081.9" y1="682.0" x2="1081.9" y2="687.0" stroke="#4a4a4a" stroke-width="2.2"/>
<line x1="1137.9" y1="682.0" x2="1137.9" y2="692.7" stroke="#4a4a4a" stroke-width="2.2"/>
<line x1="1193.9" y1="682.0" x2="1193.9" y2="687.0" stroke="#4a4a4a" stroke-width="2.2"/>
<line x1="1249.9" y1="682.0" x2="1249.9" y2="692.7" stroke="#4a4a4a" stroke-width="2.2"/>
<line x1="1305.9" y1="682.0" x2="1305.9" y2="687.0" stroke="#4a4a4a" stroke-width="2.2"/>
<line x1="1361.8" y1="682.0" x2="1361.8" y2="692.7" stroke="#4a4a4a" stroke-width="2.2"/>
<line x1="1417.8" y1="682.0" x2="1417.8" y2="687.0" stroke="#4a4a4a" stroke-width="2.2"/>
<line x1="1473.8" y1="682.0" x2="1473.8" y2="692.7" stroke="#4a4a4a" stroke-width="2.2"/>
<line x1="903.0" y1="682.0" x2="914.0" y2="682.0" stroke="#4a4a4a" stroke-width="2.2"/>
<line x1="909.0" y1="632.9" x2="914.0" y2="632.9" stroke="#4a4a4a" stroke-width="2.2"/>
<line x1="903.0" y1="583.9" x2="914.0" y2="583.9" stroke="#4a4a4a" stroke-width="2.2"/>
<line x1="909.0" y1="534.8" x2="914.0" y2="534.8" stroke="#4a4a4a" stroke-width="2.2"/>
<line x1="903.0" y1="485.8" x2="914.0" y2="485.8" stroke="#4a4a4a" stroke-width="2.2"/>
<line x1="909.0" y1="436.7" x2="914.0" y2="436.7" stroke="#4a4a4a" stroke-width="2.2"/>
<line x1="903.0" y1="387.6" x2="914.0" y2="387.6" stroke="#4a4a4a" stroke-width="2.2"/>
<line x1="909.0" y1="338.6" x2="914.0" y2="338.6" stroke="#4a4a4a" stroke-width="2.2"/>
<line x1="903.0" y1="289.5" x2="914.0" y2="289.5" stroke="#4a4a4a" stroke-width="2.2"/>
<line x1="909.0" y1="240.5" x2="914.0" y2="240.5" stroke="#4a4a4a" stroke-width="2.2"/>
<line x1="903.0" y1="191.4" x2="914.0" y2="191.4" stroke="#4a4a4a" stroke-width="2.2"/>
<line x1="909.0" y1="142.4" x2="914.0" y2="142.4" stroke="#4a4a4a" stroke-width="2.2"/>
<line x1="903.0" y1="93.3" x2="914.0" y2="93.3" stroke="#4a4a4a" stroke-width="2.2"/>
<text transform="translate(914.0 722.8) scale(1.035 1)" font-size="27.0" text-anchor="middle" font-family="Liberation Sans" stroke="#000" stroke-width="0.45">0.0</text>
<text transform="translate(1026.0 722.8) scale(1.035 1)" font-size="27.0" text-anchor="middle" font-family="Liberation Sans" stroke="#000" stroke-width="0.45">0.2</text>
<text transform="translate(1137.9 722.8) scale(1.035 1)" font-size="27.0" text-anchor="middle" font-family="Liberation Sans" stroke="#000" stroke-width="0.45">0.4</text>
<text transform="translate(1249.9 722.8) scale(1.035 1)" font-size="27.0" text-anchor="middle" font-family="Liberation Sans" stroke="#000" stroke-width="0.45">0.6</text>
<text transform="translate(1361.8 722.8) scale(1.035 1)" font-size="27.0" text-anchor="middle" font-family="Liberation Sans" stroke="#000" stroke-width="0.45">0.8</text>
<text transform="translate(1473.8 722.8) scale(1.035 1)" font-size="27.0" text-anchor="middle" font-family="Liberation Sans" stroke="#000" stroke-width="0.45">1.0</text>
<text transform="translate(894.0 687.8) scale(1.050 1)" font-size="27.0" text-anchor="end" font-family="Liberation Sans" stroke="#000" stroke-width="0.45">0</text>
<text transform="translate(894.0 590.7) scale(1.050 1)" font-size="27.0" text-anchor="end" font-family="Liberation Sans" stroke="#000" stroke-width="0.45">1</text>
<text transform="translate(894.0 492.6) scale(1.050 1)" font-size="27.0" text-anchor="end" font-family="Liberation Sans" stroke="#000" stroke-width="0.45">2</text>
<text transform="translate(894.0 394.4) scale(1.050 1)" font-size="27.0" text-anchor="end" font-family="Liberation Sans" stroke="#000" stroke-width="0.45">3</text>
<text transform="translate(894.0 296.3) scale(1.050 1)" font-size="27.0" text-anchor="end" font-family="Liberation Sans" stroke="#000" stroke-width="0.45">4</text>
<text transform="translate(894.0 198.2) scale(1.050 1)" font-size="27.0" text-anchor="end" font-family="Liberation Sans" stroke="#000" stroke-width="0.45">5</text>
<text transform="translate(894.0 100.1) scale(1.050 1)" font-size="27.0" text-anchor="end" font-family="Liberation Sans" stroke="#000" stroke-width="0.45">6</text>
<text x="411.7" y="54.0" font-size="66.0" text-anchor="start" font-family="Liberation Sans" stroke="#fff" stroke-width="1.3">(</text>
<text x="436.0" y="52.5" font-size="71.0" text-anchor="start" font-family="Liberation Sans" stroke="#fff" stroke-width="0.8" transform="translate(0 52.5) scale(1 1.06) translate(0 -52.5)">a</text>
<text x="478.1" y="54.0" font-size="66.0" text-anchor="start" font-family="Liberation Sans" stroke="#fff" stroke-width="1.3">)</text>
<text x="1150.1" y="60.3" font-size="60.4" text-anchor="start" font-family="Liberation Sans" stroke="#fff" stroke-width="1.3">(</text>
<text x="1171.7" y="59.2" font-size="67.0" text-anchor="start" font-family="Liberation Sans" stroke="#fff" stroke-width="0.6">b</text>
<text x="1210.1" y="60.3" font-size="60.4" text-anchor="start" font-family="Liberation Sans" stroke="#fff" stroke-width="1.3">)</text>
<text x="443.5" y="758.4" font-size="40.0" text-anchor="start" font-family="Liberation Sans" >&#961;</text>
<text x="1181.2" y="758.9" font-size="40.0" text-anchor="start" font-family="Liberation Sans" >&#961;</text>
<text x="4.7" y="406.9" font-size="46.0" text-anchor="start" font-family="Liberation Sans" >&lt;</text>
<text x="31.3" y="406.9" font-size="46.0" text-anchor="start" font-family="Liberation Sans" >n</text>
<text x="58.1" y="425.7" font-size="28.0" text-anchor="start" font-family="Liberation Sans" >i</text>
<text x="63.9" y="406.9" font-size="46.0" text-anchor="start" font-family="Liberation Sans" >&gt;</text>
<text x="773.5" y="371.3" font-size="28.5" text-anchor="start" font-family="Liberation Serif" font-style="italic" stroke="#000" stroke-width="0.15">D</text>
<text x="798.3" y="373.3" font-size="27.1" text-anchor="start" font-family="Liberation Serif" >&lt;</text>
<text x="820.0" y="371.3" font-size="28.5" text-anchor="start" font-family="Liberation Serif" font-style="italic" stroke="#000" stroke-width="0.15">n</text>
<text x="835.0" y="376.5" font-size="11.0" text-anchor="start" font-family="Liberation Serif" font-style="italic" fill="#999">i</text>
<text x="845.3" y="372.8" font-size="27.1" text-anchor="start" font-family="Liberation Serif" >&gt;</text>
<text x="790.3" y="409.7" font-size="28.5" text-anchor="start" font-family="Liberation Serif" font-style="italic" stroke="#000" stroke-width="0.15">K</text>
<line x1="816.2" y1="402.1" x2="830.1" y2="402.1" stroke="#777" stroke-width="2.0"/>
<path d="M838.2 394.2 L841.2 391 L841.2 409.7" fill="none" stroke="#222" stroke-width="2.6"/>
<path d="M837.2 409.5 L843 409.5" fill="none" stroke="#444" stroke-width="1"/>
<line x1="770.0" y1="380.7" x2="862.9" y2="380.7" stroke="#666" stroke-width="2.0"/>
<path d="M752.6 386 L755.5 384.5 L761 411.3 L768 342.9 L864.8 342.9" fill="none" stroke="#555" stroke-width="2"/>
<path d="M752.6 386 L755.5 384.5 L761 411.3" fill="none" stroke="#222" stroke-width="2.6"/>
</svg>
</body></html>
